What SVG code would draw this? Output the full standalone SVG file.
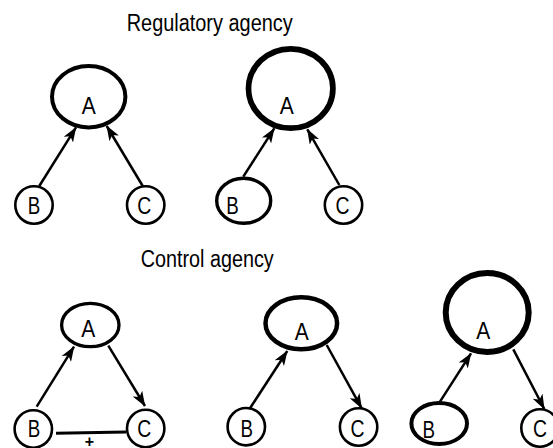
<svg xmlns="http://www.w3.org/2000/svg" width="553" height="448" viewBox="0 0 553 448">
  <defs>
    <marker id="arrow" viewBox="0 0 15 11" refX="14.5" refY="5.5" markerWidth="15" markerHeight="11" markerUnits="userSpaceOnUse" orient="auto">
      <path d="M0,0 L15,5.5 L0,11 L4,5.5 Z" fill="#000"/>
    </marker>
    <style>
      .node { fill: #fff; stroke: #000; }
      .lbl { font-family: "Liberation Sans Narrow", "Liberation Sans", Arial, sans-serif; font-size: 24px; fill: #000; text-anchor: middle; }
      .title { font-family: "Liberation Sans Narrow", "Liberation Sans", Arial, sans-serif; font-size: 23px; fill: #000; }
      .edge { stroke: #000; stroke-width: 2.5; fill: none; marker-end: url(#arrow); }
      .link { stroke: #000; stroke-width: 3; fill: none; }
    </style>
  </defs>

  <rect width="553" height="448" fill="#fff"/>

  <text class="title" x="126.7" y="30.7" textLength="166" lengthAdjust="spacingAndGlyphs">Regulatory agency</text>
  <text class="title" x="140.7" y="267.3" textLength="133" lengthAdjust="spacingAndGlyphs">Control agency</text>

  <!-- connectors -->
  <g id="connectors">
    <line class="edge" x1="39.3" y1="186" x2="76" y2="127.3"/>
    <line class="edge" x1="142.7" y1="186" x2="106.7" y2="126"/>
    <line class="edge" x1="243.3" y1="176.7" x2="274.3" y2="128.3"/>
    <line class="edge" x1="339.3" y1="185" x2="307.3" y2="129.3"/>
    <line class="edge" x1="36.7" y1="406.7" x2="74" y2="346.7"/>
    <line class="edge" x1="108.3" y1="345.7" x2="145" y2="406"/>
    <line class="edge" x1="250" y1="408.3" x2="287.3" y2="351"/>
    <line class="edge" x1="326.7" y1="345" x2="361.7" y2="408.3"/>
    <line class="edge" x1="440" y1="401.7" x2="471" y2="353.3"/>
    <line class="edge" x1="513.3" y1="349.3" x2="544.3" y2="409"/>
    <line class="link" x1="56" y1="433.3" x2="126" y2="432"/>
    <text class="lbl" x="89.3" y="447" style="font-size:16px;font-weight:bold">+</text>
  </g>

  <!-- regulatory agency, left -->
  <g id="reg1-A">
    <ellipse class="node" cx="88.7" cy="96.7" rx="36.7" ry="30.7" stroke-width="4"/>
    <text class="lbl" x="88.8" y="114.3" textLength="14" lengthAdjust="spacingAndGlyphs">A</text>
  </g>
  <g id="reg1-B">
    <circle class="node" cx="34" cy="205" r="18.7" stroke-width="2.6"/>
    <text class="lbl" x="34" y="214" textLength="12.5" lengthAdjust="spacingAndGlyphs">B</text>
  </g>
  <g id="reg1-C">
    <circle class="node" cx="145.7" cy="205" r="18.7" stroke-width="2.6"/>
    <text class="lbl" x="144.3" y="214" textLength="14" lengthAdjust="spacingAndGlyphs">C</text>
  </g>

  <!-- regulatory agency, right -->
  <g id="reg2-A">
    <ellipse class="node" cx="290.7" cy="88.5" rx="42.2" ry="39.7" stroke-width="5.7"/>
    <text class="lbl" x="286.7" y="114.3" textLength="14" lengthAdjust="spacingAndGlyphs">A</text>
  </g>
  <g id="reg2-B">
    <ellipse class="node" cx="243.7" cy="200.8" rx="27" ry="22.5" stroke-width="3.4"/>
    <text class="lbl" x="232.5" y="214.3" textLength="12.5" lengthAdjust="spacingAndGlyphs">B</text>
  </g>
  <g id="reg2-C">
    <circle class="node" cx="343.5" cy="205" r="18.7" stroke-width="2.6"/>
    <text class="lbl" x="342.5" y="214" textLength="14" lengthAdjust="spacingAndGlyphs">C</text>
  </g>

  <!-- control agency, left -->
  <g id="ctl1-A">
    <ellipse class="node" cx="90.3" cy="325" rx="28.7" ry="21.7" stroke-width="3.3"/>
    <text class="lbl" x="88.3" y="336.7" textLength="14" lengthAdjust="spacingAndGlyphs">A</text>
  </g>
  <g id="ctl1-B">
    <circle class="node" cx="33.3" cy="429" r="18.7" stroke-width="2.6"/>
    <text class="lbl" x="34" y="436.5" textLength="12.5" lengthAdjust="spacingAndGlyphs">B</text>
  </g>
  <g id="ctl1-C">
    <circle class="node" cx="145.7" cy="428.5" r="18.7" stroke-width="2.6"/>
    <text class="lbl" x="144.3" y="436.5" textLength="14" lengthAdjust="spacingAndGlyphs">C</text>
  </g>

  <!-- control agency, middle -->
  <g id="ctl2-A">
    <ellipse class="node" cx="301.3" cy="323.3" rx="35.8" ry="26" stroke-width="4.5"/>
    <text class="lbl" x="301.7" y="340" textLength="14" lengthAdjust="spacingAndGlyphs">A</text>
  </g>
  <g id="ctl2-B">
    <circle class="node" cx="246.3" cy="426.7" r="18.7" stroke-width="2.6"/>
    <text class="lbl" x="246.7" y="436.5" textLength="12.5" lengthAdjust="spacingAndGlyphs">B</text>
  </g>
  <g id="ctl2-C">
    <circle class="node" cx="358.6" cy="427" r="18.7" stroke-width="2.6"/>
    <text class="lbl" x="357.5" y="436.5" textLength="14" lengthAdjust="spacingAndGlyphs">C</text>
  </g>

  <!-- control agency, right -->
  <g id="ctl3-A">
    <ellipse class="node" cx="487.2" cy="312.5" rx="41.5" ry="39.5" stroke-width="6"/>
    <text class="lbl" x="483.3" y="339" textLength="14" lengthAdjust="spacingAndGlyphs">A</text>
  </g>
  <g id="ctl3-B">
    <ellipse class="node" cx="439.2" cy="423.5" rx="27.8" ry="20.5" stroke-width="4"/>
    <text class="lbl" x="428.8" y="438" textLength="12.5" lengthAdjust="spacingAndGlyphs">B</text>
  </g>
  <g id="ctl3-C">
    <circle class="node" cx="540" cy="428" r="18.7" stroke-width="2.6"/>
    <text class="lbl" x="540" y="437" textLength="14" lengthAdjust="spacingAndGlyphs">C</text>
  </g>
</svg>
